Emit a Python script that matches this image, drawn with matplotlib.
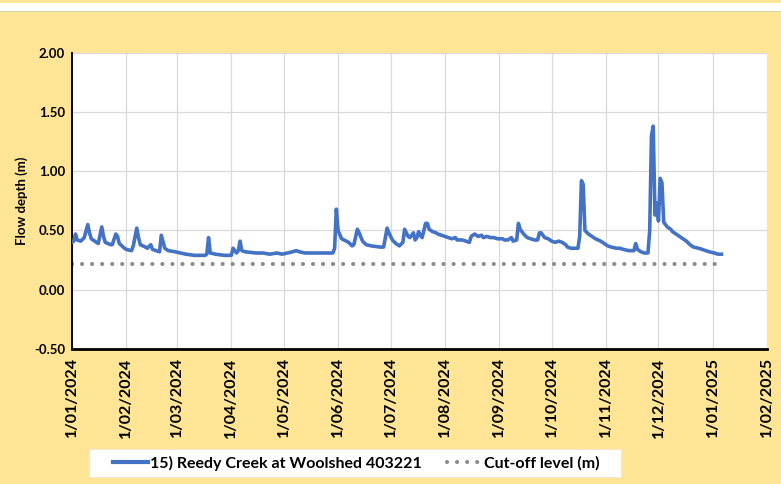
import numpy as np
import matplotlib
matplotlib.use("Agg")
import matplotlib.pyplot as plt
from matplotlib.patches import Rectangle

# ---- data (day offsets from 1 Jan 2024, flow depth in m) ----
start_date = "2024-01-01"
day_offsets = [0, 1, 2, 3, 5, 7, 9, 10, 11, 14, 15, 17, 18, 19, 22, 23, 25, 26, 27, 30,
               31, 34, 35, 37, 38, 39, 42, 43, 45, 46, 48, 50, 51, 53, 55, 59, 65, 70, 76, 77,
               78, 79, 82, 87, 91, 92, 94, 95, 96, 97, 99, 105, 109, 113, 117, 120, 123, 126, 128, 130,
               133, 139, 145, 149, 150, 151, 152, 154, 158, 160, 161, 163, 164, 166, 168, 171, 176, 178, 179, 180,
               181, 183, 185, 187, 189, 190, 191, 192, 193, 195, 196, 197, 198, 199, 200, 202, 203, 204, 206, 208,
               209, 211, 213, 215, 217, 219, 220, 223, 225, 227, 228, 230, 232, 234, 235, 237, 239, 241, 243, 246,
               247, 249, 251, 252, 254, 255, 256, 258, 260, 262, 264, 266, 267, 268, 270, 272, 274, 276, 278, 280,
               282, 283, 285, 287, 289, 290, 291, 292, 293, 295, 297, 299, 302, 304, 306, 308, 311, 313, 315, 318,
               320, 321, 322, 323, 325, 327, 329, 330, 331, 332, 333, 334, 335, 336, 337, 338, 340, 342, 343, 345,
               347, 349, 351, 353, 355, 358, 360, 362, 364, 367, 369, 371]
flow_depth = [0.40, 0.41, 0.47, 0.42, 0.41, 0.44, 0.55, 0.48, 0.43, 0.40, 0.39, 0.53, 0.45, 0.40, 0.38, 0.38, 0.47, 0.45, 0.39, 0.35,
              0.34, 0.33, 0.37, 0.52, 0.44, 0.38, 0.36, 0.35, 0.38, 0.34, 0.33, 0.32, 0.46, 0.35, 0.33, 0.32, 0.30, 0.29, 0.29, 0.30,
              0.44, 0.31, 0.30, 0.29, 0.29, 0.35, 0.31, 0.33, 0.41, 0.33, 0.32, 0.31, 0.31, 0.30, 0.31, 0.30, 0.31, 0.32, 0.33, 0.32,
              0.31, 0.31, 0.31, 0.31, 0.35, 0.68, 0.50, 0.43, 0.40, 0.37, 0.38, 0.51, 0.48, 0.41, 0.38, 0.37, 0.36, 0.36, 0.44, 0.52,
              0.48, 0.42, 0.39, 0.37, 0.40, 0.51, 0.48, 0.45, 0.44, 0.48, 0.42, 0.44, 0.49, 0.46, 0.44, 0.56, 0.56, 0.51, 0.49, 0.48,
              0.47, 0.46, 0.45, 0.44, 0.43, 0.44, 0.42, 0.42, 0.41, 0.40, 0.45, 0.47, 0.45, 0.46, 0.44, 0.45, 0.44, 0.44, 0.43, 0.43,
              0.42, 0.42, 0.44, 0.41, 0.42, 0.56, 0.51, 0.47, 0.44, 0.43, 0.42, 0.42, 0.48, 0.48, 0.44, 0.43, 0.41, 0.40, 0.41, 0.40,
              0.38, 0.36, 0.35, 0.35, 0.35, 0.45, 0.92, 0.89, 0.50, 0.47, 0.45, 0.43, 0.41, 0.39, 0.37, 0.36, 0.35, 0.35, 0.34, 0.33,
              0.33, 0.33, 0.39, 0.34, 0.32, 0.31, 0.31, 0.50, 1.30, 1.38, 0.63, 0.73, 0.58, 0.94, 0.90, 0.57, 0.53, 0.51, 0.49, 0.47,
              0.45, 0.43, 0.41, 0.38, 0.36, 0.35, 0.34, 0.33, 0.32, 0.31, 0.30, 0.30]
cutoff_level = 0.22
series_label = "15) Reedy Creek at Woolshed 403221"
cutoff_label = "Cut-off level (m)"
y_label = "Flow depth (m)"
y_ticks = [-0.5, 0.0, 0.5, 1.0, 1.5, 2.0]
tick_months = ["2024-01", "2024-02", "2024-03", "2024-04", "2024-05", "2024-06", "2024-07",
               "2024-08", "2024-09", "2024-10", "2024-11", "2024-12", "2025-01", "2025-02"]

dates = np.datetime64(start_date) + np.array(day_offsets).astype("timedelta64[D]")
tick_dates = [np.datetime64(m + "-01") for m in tick_months]
tick_labels = [f"1/{m[5:7]}/{m[:4]}" for m in tick_months]

plt.rcParams['font.family'] = ['Lato', 'DejaVu Sans']

fig = plt.figure(figsize=(7.81, 4.84), dpi=100)
fig.patch.set_facecolor("#FFE595")
# top white strip
fig.patches.append(Rectangle((0, 1 - 11/484), 1, 8/484, transform=fig.transFigure,
                             facecolor="white", edgecolor="none", zorder=0))
fig.patches.append(Rectangle((0, 1 - 12/484), 1, 1/484, transform=fig.transFigure,
                             facecolor="#d8d0b0", edgecolor="none", zorder=0))
# legend background box
fig.patches.append(Rectangle((89/781, 1 - 477/484), (621 - 89)/781, 28/484,
                             transform=fig.transFigure, facecolor="white",
                             edgecolor="#ece6d0", lw=0.6, zorder=0))

ax = fig.add_axes([72/781, 1 - 349/484, (767 - 72)/781, (349 - 52.7)/484])
ax.set_facecolor("white")
for s in ["top", "right"]:
    ax.spines[s].set_visible(False)
ax.spines["left"].set_linewidth(1.4)
ax.spines["bottom"].set_linewidth(2.0)

ax.plot(dates, flow_depth, color="#4472C4", lw=2.6, solid_joinstyle="round", zorder=3,
        label=series_label)
ax.plot([dates[0], dates[-1]], [cutoff_level, cutoff_level], color="#8c8c8c", lw=3.0,
        linestyle=(0, (0.01, 2.4)), dash_capstyle="round", zorder=2, label=cutoff_label)

ax.set_xlim(tick_dates[0], tick_dates[-1])
ax.set_ylim(-0.5, 2.0)
ax.set_yticks(y_ticks)
ax.set_yticklabels([f"{v:.2f}" for v in y_ticks], fontweight="bold", fontsize=9.5)
ax.set_xticks(tick_dates)
ax.set_xticklabels(tick_labels, rotation=90, fontweight="bold", fontsize=11.5)
ax.tick_params(axis="both", length=0, colors="black")
ax.tick_params(axis="y", pad=5)
ax.tick_params(axis="x", pad=6)

ax.grid(True, color="#d9d9d9", lw=0.9)
ax.set_axisbelow(True)

ax.set_ylabel(y_label, fontweight="bold", fontsize=9.5, labelpad=4)

leg = fig.legend(loc="center", bbox_to_anchor=(356.5/781, 1 - 463/484), ncol=2,
                 frameon=False, prop={"weight": "bold", "size": 11.5},
                 handlelength=2.2, columnspacing=1.6, handletextpad=0.1)
leg.get_lines()[0].set_linewidth(3)

fig.savefig("out.png", dpi=100, facecolor=fig.get_facecolor())
